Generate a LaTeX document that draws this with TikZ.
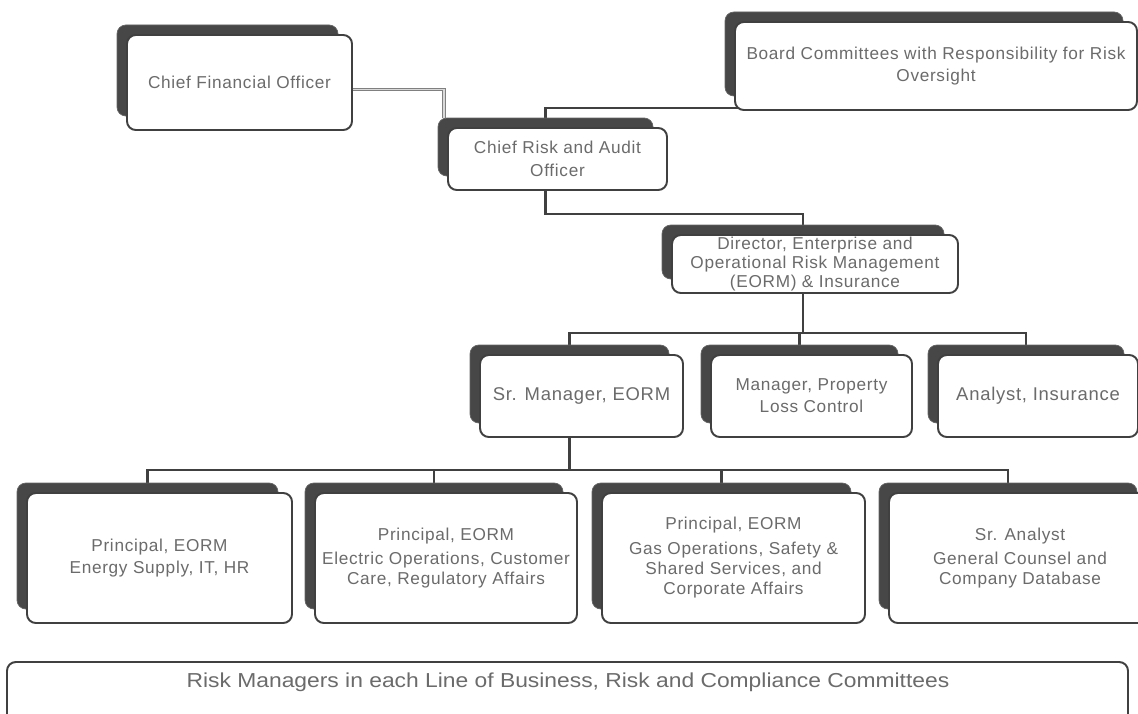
\documentclass[tikz,border=0pt]{standalone}
\usepackage{fontspec}
\setmainfont{Liberation Sans}
\newfontfamily\lsans{Liberation Sans}[LetterSpace=4]
\usetikzlibrary{backgrounds}
\newcommand\orgbox[7]{%
  \node[shad, minimum width={(#5-4)*0.02cm}, minimum height={(#6-4)*0.02cm}] (#1S) at (#3-12,#4-12) {};
  \node[box, minimum width={#5*0.02cm}, minimum height={#6*0.02cm}, #2] (#1) at (#3,#4) {#7};}
\begin{document}
\begin{tikzpicture}[x=0.02cm,y=-0.02cm,
  shad/.style={rectangle, rounded corners=5pt, fill=black!72, draw=black!60, line width=0.4pt, inner sep=0pt},
  box/.style={rectangle, rounded corners=5pt, fill=white, draw=black!75, line width=1.1pt, inner sep=0pt,
    align=center, text=black!58, font=\lsans\fontsize{9.8}{12}\selectfont},
  conn/.style={draw=black!75, line width=1.4pt},
  dbl/.style={draw=black!50, double=black!15, double distance=1pt, line width=0.6pt},
  rmtext/.style={text=black!58, inner sep=0pt, font=\fontsize{11.5}{13}\selectfont}]
\useasboundingbox (0,0) rectangle (1138,713);

\orgbox{cfo}{}{239.5}{82.5}{225}{95}{Chief Financial Officer}
\orgbox{board}{font=\lsans\fontsize{9.8}{12.5}\selectfont}{936}{66}{402}{88}{Board Committees with Responsibility for Risk\\Oversight}
\orgbox{crao}{font=\lsans\fontsize{9.8}{13}\selectfont}{557.5}{159}{219}{62}{Chief Risk and Audit\\Officer}
\orgbox{dir}{font=\lsans\fontsize{9.8}{11}\selectfont}{815}{264}{286}{58}{Director, Enterprise and\\Operational Risk Management\\(EORM) \& Insurance}
\orgbox{sr}{font=\lsans\fontsize{10.5}{12.5}\selectfont}{581.5}{396}{203}{82}{Sr. Manager, EORM}
\orgbox{mp}{font=\lsans\fontsize{9.8}{12.5}\selectfont}{811.5}{396}{201}{82}{Manager, Property\\Loss Control}
\orgbox{an}{font=\lsans\fontsize{10.5}{12.5}\selectfont}{1038}{396}{200}{82}{Analyst, Insurance}
\orgbox{pa}{font=\lsans\fontsize{9.8}{11.5}\selectfont}{159.5}{558}{265}{130}{Principal, EORM\\[1.5pt]Energy Supply, IT, HR}
\orgbox{pb}{font=\lsans\fontsize{9.8}{11.5}\selectfont}{446}{558}{262}{130}{Principal, EORM\\[2.5pt]Electric Operations, Customer\\Care, Regulatory Affairs}
\orgbox{pc}{font=\lsans\fontsize{9.8}{11.5}\selectfont}{733.5}{558}{263}{130}{Principal, EORM\\[2.5pt]Gas Operations, Safety \&\\Shared Services, and\\Corporate Affairs}
\orgbox{pd}{font=\lsans\fontsize{9.8}{11.5}\selectfont}{1020}{558}{262}{130}{Sr. Analyst\\[2.5pt]General Counsel and\\Company Database}

\draw[rounded corners=5pt, draw=black!75, line width=1.1pt] (7,720) -- (7,662) -- (1128,662) -- (1128,720);
\node[rmtext] (rm) at (568,682) {\scalebox{1.13}[1]{Risk Managers in each Line of Business, Risk and Compliance Committees}};

\coordinate (busA) at (0,333);
\coordinate (busB) at (0,470);
\begin{scope}[on background layer]
  \fill[white] (0,0) rectangle (1138,713);
  \draw[dbl] ([yshift=-0.14cm]cfo.east) -| ([xshift=0.12cm]craoS.north west);
  \draw[conn] ([xshift=0.12cm,yshift=0.06cm]board.south west) -| (craoS.north);
  \draw[conn] (crao.south -| craoS.north) -- ++(0,23) -| (dirS.north);
  \draw[conn] (dir.south -| dirS.north) -- (dirS.north |- busA);
  \draw[conn] (srS.north) |- (busA -| anS.north) -- (anS.north);
  \draw[conn] (mpS.north) -- (mpS.north |- busA);
  \draw[conn] (sr.south -| srS.north) -- (srS.north |- busB);
  \draw[conn] (paS.north) |- (busB -| pdS.north) -- (pdS.north);
  \draw[conn] (pbS.north) -- (pbS.north |- busB);
  \draw[conn] (pcS.north) -- (pcS.north |- busB);
\end{scope}
\end{tikzpicture}
\end{document}
